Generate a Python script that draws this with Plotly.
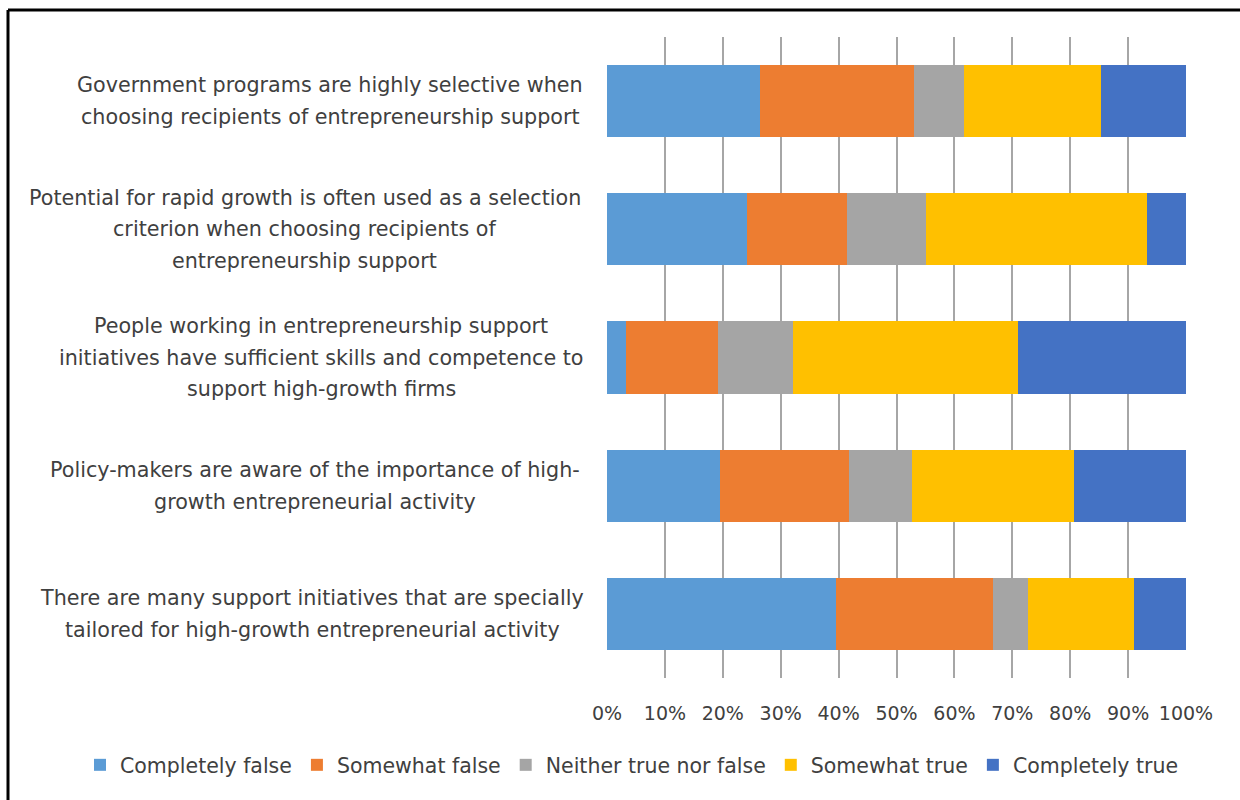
import plotly.graph_objects as go

# Survey statements (top to bottom) and the share of answers per response
statements = [
    "Government programs are highly selective when<br>choosing recipients of entrepreneurship support",
    "Potential for rapid growth is often used as a selection<br>criterion when choosing recipients of<br>entrepreneurship support",
    "People working in entrepreneurship support<br>initiatives have sufficient skills and competence to<br>support high-growth firms",
    "Policy-makers are aware of the importance of high-<br>growth entrepreneurial activity",
    "There are many support initiatives that are specially<br>tailored for high-growth entrepreneurial activity",
]
responses = ["Completely false", "Somewhat false", "Neither true nor false",
             "Somewhat true", "Completely true"]

completely_false = [26.4, 24.2, 3.3, 19.5, 39.5]
somewhat_false = [26.7, 17.3, 15.9, 22.3, 27.2]
neither = [8.6, 13.6, 12.9, 10.9, 6.0]
somewhat_true = [23.6, 38.2, 38.9, 27.9, 18.3]
completely_true = [14.7, 6.7, 29.0, 19.4, 9.0]

x_ticks = [0, 10, 20, 30, 40, 50, 60, 70, 80, 90, 100]
x_tick_labels = ["0%", "10%", "20%", "30%", "40%", "50%", "60%", "70%",
                 "80%", "90%", "100%"]

series = [completely_false, somewhat_false, neither, somewhat_true, completely_true]
colors = ["#5B9BD5", "#ED7D31", "#A5A5A5", "#FFC000", "#4472C4"]

FONT = "DejaVu Sans"
TEXT = "#404040"

# plot area in pixels
W, H = 1240, 800
L, R, T, B = 607, 54, 37, 122
PW, PH = W - L - R, H - T - B

def px_x(px):
    return (px - L) / PW

def px_y(py):
    return (H - B - py) / PH

fig = go.Figure()
for name, vals, col in zip(responses, series, colors):
    fig.add_trace(go.Bar(
        y=statements, x=vals, name=name, orientation="h",
        marker=dict(color=col, line=dict(width=0)),
        hoverinfo="name+x",
    ))

# category labels: centred multi-line blocks to the left of the axis
label_centres = [330, 304.5, 321, 315, 312]
line_gap = 31.7
annotations = []
for stmt, cx in zip(statements, label_centres):
    lines = stmt.split("<br>")
    n = len(lines)
    for i, line in enumerate(lines):
        annotations.append(dict(
            x=px_x(cx), xref="paper", y=stmt, yref="y",
            text=line, showarrow=False, xanchor="center", yanchor="middle",
            yshift=-(i - (n - 1) / 2) * line_gap,
            font=dict(family=FONT, size=20.7, color=TEXT),
        ))

# outer chart frame (top and left edges)
shapes = [
    dict(type="line", xref="paper", yref="paper",
         x0=px_x(8), x1=px_x(1240), y0=px_y(10), y1=px_y(10),
         line=dict(color="black", width=3)),
    dict(type="line", xref="paper", yref="paper",
         x0=px_x(8), x1=px_x(8), y0=px_y(10), y1=px_y(800),
         line=dict(color="black", width=3)),
]

fig.update_layout(
    width=W, height=H,
    margin=dict(l=L, r=R, t=T, b=B, autoexpand=False),
    paper_bgcolor="white", plot_bgcolor="white",
    barmode="stack", bargap=0.436,
    font=dict(family=FONT, size=19, color=TEXT),
    xaxis=dict(range=[0, 100], tickmode="array", tickvals=x_ticks,
               ticktext=x_tick_labels,
               showgrid=True, gridcolor="#A6A6A6", gridwidth=1.5,
               zeroline=False, showline=False,
               ticks="outside", ticklen=18, tickcolor="rgba(0,0,0,0)",
               tickfont=dict(family=FONT, size=19, color=TEXT)),
    yaxis=dict(autorange="reversed", showticklabels=False, showgrid=False,
               zeroline=False, showline=False, ticks=""),
    legend=dict(orientation="h", xref="paper", yref="paper",
                x=px_x(80), y=px_y(765), xanchor="left", yanchor="middle",
                bgcolor="rgba(0,0,0,0)",
                font=dict(family=FONT, size=20.5, color=TEXT),
                itemwidth=30, traceorder="normal"),
    annotations=annotations,
    shapes=shapes,
    showlegend=True,
)

fig.write_html("out.html")
